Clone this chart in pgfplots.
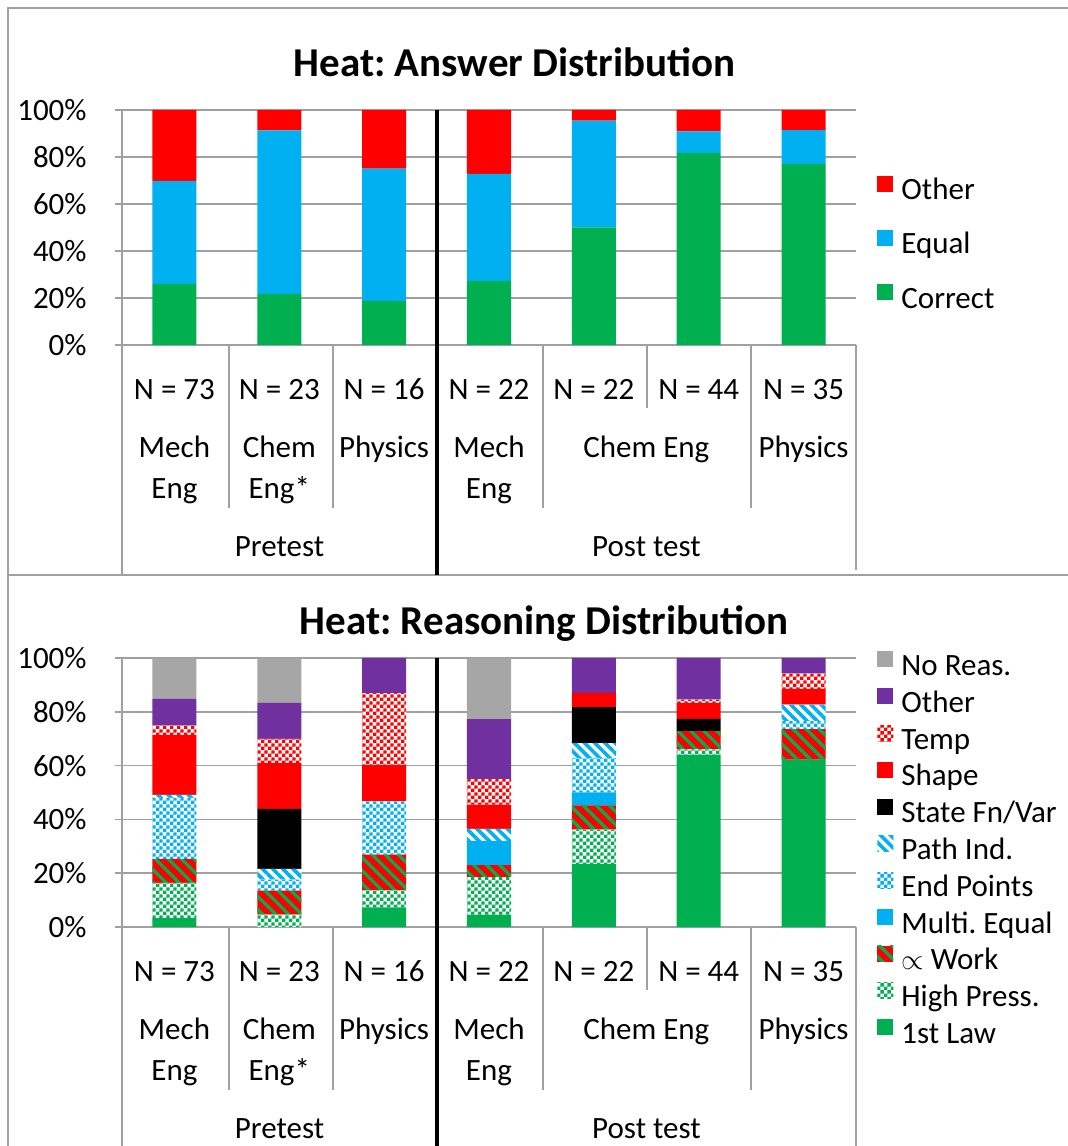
\documentclass[border=0pt]{standalone}
\usepackage{fontspec}
\setmainfont{Carlito}
\usepackage{pgfplots}
\pgfplotsset{compat=1.18}
\usetikzlibrary{patterns,patterns.meta}
\frenchspacing

\definecolor{xred}{RGB}{255,0,0}
\definecolor{xblue}{RGB}{0,176,240}
\definecolor{xgreen}{RGB}{0,176,80}
\definecolor{xpurple}{RGB}{112,48,160}
\definecolor{xgray}{RGB}{166,166,166}
\definecolor{gridc}{RGB}{160,160,160}

\pgfdeclarepatternformonly{chk}{\pgfqpoint{0pt}{0pt}}{\pgfqpoint{3.4pt}{3.4pt}}{\pgfqpoint{3.4pt}{3.4pt}}{%
  \pgfpathrectangle{\pgfqpoint{0pt}{0pt}}{\pgfqpoint{1.7pt}{1.7pt}}%
  \pgfpathrectangle{\pgfqpoint{1.7pt}{1.7pt}}{\pgfqpoint{1.7pt}{1.7pt}}%
  \pgfusepath{fill}}

\newcommand\lab{\fontsize{15.5}{18}\selectfont}
\newcommand\ttl{\fontsize{20.5}{24}\selectfont\bfseries}

\pgfplotsset{
  leg/.style={legend image code/.code={\draw[##1,draw=none] (0pt,0.5pt) rectangle (8pt,8.5pt);}},
  sLaw/.style={fill=xgreen,draw=none,leg},
  sHP/.style={fill=white,postaction={pattern=chk,pattern color=xgreen},draw=none,leg},
  sWork/.style={fill=xred,postaction={pattern={Lines[angle=-45,distance=4.6pt,line width=1.6pt]},pattern color=xgreen},draw=none,leg},
  sME/.style={fill=xblue,draw=none,leg},
  sEP/.style={fill=white,postaction={pattern=chk,pattern color=xblue},draw=none,leg},
  sPI/.style={fill=white,postaction={pattern={Lines[angle=-45,distance=3.6pt,line width=1.8pt]},pattern color=xblue},draw=none,leg},
  sSF/.style={fill=black,draw=none,leg},
  sShape/.style={fill=xred,draw=none,leg},
  sTemp/.style={fill=white,postaction={pattern=chk,pattern color=xred},draw=none,leg},
  sOther/.style={fill=xpurple,draw=none,leg},
  sNo/.style={fill=xgray,draw=none,leg},
  myaxis/.style={
    scale only axis, width=367pt,
    ybar stacked, bar width=0.42,
    xmin=-0.5, xmax=6.5, ymin=0, ymax=100,
    xtick={0,...,6},
    xticklabels={N = 73, N = 23, N = 16, N = 22, N = 22, N = 44, N = 35},
    ytick={0,20,...,100},
    yticklabels={0\%,20\%,40\%,60\%,80\%,100\%},
    axis x line=bottom, axis y line=left,
    axis line style={-,draw=gridc,line width=0.8pt},
    xtick style={draw=none},
    ytick style={draw=gridc,line width=0.8pt},
    ytick align=outside, major tick length=3.5pt,
    ymajorgrids, major grid style={draw=gridc,line width=0.8pt},
    tick label style={font=\lab},
    xticklabel style={anchor=base,yshift=-25.5pt,inner sep=0pt},
    yticklabel style={anchor=east,xshift=-14pt,inner sep=0pt},
    clip=false,
    reverse legend,
    legend cell align=left,
  }
}

\begin{document}
\begin{tikzpicture}
\path[use as bounding box] (0pt,0pt) rectangle (534pt,573pt);

% ---------- top chart ----------
\begin{axis}[myaxis, height=117.5pt, at={(61pt,400.5pt)}, anchor=south west,
  legend style={at={(1,0.4215)},anchor=west,xshift=10.5pt,draw=none,fill=none,
    inner sep=0pt,row sep=11.2pt,column sep=3pt,
    nodes={inner sep=1pt,text height=10pt,text depth=3pt,font=\lab}}]
\addplot[sLaw] coordinates {(0,26.0) (1,21.7) (2,18.75) (3,27.3) (4,50.0) (5,81.8) (6,77.1)};
\addlegendentry{Correct}
\addplot[sME] coordinates {(0,43.8) (1,69.6) (2,56.25) (3,45.5) (4,45.5) (5,9.1) (6,14.3)};
\addlegendentry{Equal}
\addplot[sShape] coordinates {(0,30.2) (1,8.7) (2,25.0) (3,27.2) (4,4.5) (5,9.1) (6,8.6)};
\addlegendentry{Other}
\end{axis}

% ---------- bottom chart ----------
\begin{axis}[myaxis, height=134.5pt, at={(61pt,109.5pt)}, anchor=south west,
  legend style={at={(1,0.2807)},anchor=west,xshift=10.5pt,draw=none,fill=none,
    inner sep=0pt,row sep=2.4pt,column sep=3pt,
    nodes={inner sep=1pt,text height=10pt,text depth=3pt,font=\lab}}]
\addplot[sLaw] coordinates {(0,3.4) (1,0) (2,7.3) (3,4.6) (4,23.4) (5,64.1) (6,62.2)};
\addlegendentry{1st Law}
\addplot[sHP] coordinates {(0,13.0) (1,4.6) (2,6.3) (3,13.9) (4,12.8) (5,1.9) (6,0)};
\addlegendentry{High Press.}
\addplot[sWork] coordinates {(0,8.9) (1,8.9) (2,13.3) (3,4.5) (4,9.0) (5,6.8) (6,11.4)};
\addlegendentry{$\propto$ Work}
\addplot[sME] coordinates {(0,0) (1,0) (2,0) (3,8.9) (4,4.8) (5,0) (6,0)};
\addlegendentry{Multi. Equal}
\addplot[sEP] coordinates {(0,22.7) (1,4.1) (2,19.8) (3,0) (4,12.8) (5,0) (6,2.9)};
\addlegendentry{End Points}
\addplot[sPI] coordinates {(0,1.1) (1,4.0) (2,0) (3,4.6) (4,5.6) (5,0) (6,6.2)};
\addlegendentry{Path Ind.}
\addplot[sSF] coordinates {(0,0) (1,22.3) (2,0) (3,0) (4,13.3) (5,4.6) (6,0)};
\addlegendentry{State Fn/Var}
\addplot[sShape] coordinates {(0,22.3) (1,17.1) (2,13.6) (3,9.0) (4,5.3) (5,5.9) (6,5.8)};
\addlegendentry{Shape}
\addplot[sTemp] coordinates {(0,3.5) (1,8.9) (2,26.6) (3,9.5) (4,0) (5,1.2) (6,5.7)};
\addlegendentry{Temp}
\addplot[sOther] coordinates {(0,9.9) (1,13.4) (2,13.1) (3,22.3) (4,13.0) (5,15.5) (6,5.8)};
\addlegendentry{Other}
\addplot[sNo] coordinates {(0,15.2) (1,16.7) (2,0) (3,22.6) (4,0) (5,0) (6,0)};
\addlegendentry{No Reas.}
\end{axis}

% ---------- frame, separators, category labels (pixel units) ----------
\begin{scope}[x=0.5pt,y=-0.5pt,shift={(0pt,573pt)}]
  \draw[gridc,line width=1pt] (8,1146) -- (8,8) -- (1068,8);
  \draw[gridc,line width=1pt] (8,575) -- (1068,575);
  \node[anchor=base,font=\ttl] at (514.5,77) {Heat: Answer Distribution};
  \node[anchor=base,font=\ttl] at (544,635) {Heat: Reasoning Distribution};
  \foreach \o in {0,582}{
    \draw[gridc,line width=0.8pt] (122,345+\o) -- (122,575+\o);
    \draw[gridc,line width=0.8pt] (856,345+\o) -- (856,570+\o);
    \foreach \xx in {229,333,543,751}{
      \draw[gridc,line width=0.8pt] (\xx,345+\o) -- (\xx,508+\o);
    }
    \draw[gridc,line width=0.8pt] (647,345+\o) -- (647,408+\o);
    \node[anchor=base,font=\lab] at (174.4,458+\o) {Mech};
    \node[anchor=base,font=\lab] at (279.3,458+\o) {Chem};
    \node[anchor=base,font=\lab] at (384.1,458+\o) {Physics};
    \node[anchor=base,font=\lab] at (489,458+\o) {Mech};
    \node[anchor=base,font=\lab] at (646.3,458+\o) {Chem Eng};
    \node[anchor=base,font=\lab] at (803.6,458+\o) {Physics};
    \node[anchor=base,font=\lab] at (174.4,499+\o) {Eng};
    \node[anchor=base,font=\lab] at (279.3,499+\o) {Eng*};
    \node[anchor=base,font=\lab] at (489,499+\o) {Eng};
    \node[anchor=base,font=\lab] at (279.5,557+\o) {Pretest};
    \node[anchor=base,font=\lab] at (646.5,557+\o) {Post test};
  }
  \draw[black,line width=2pt] (437,110) -- (437,575);
  \draw[black,line width=2pt] (437,658) -- (437,1146);
\end{scope}
\end{tikzpicture}
\end{document}
